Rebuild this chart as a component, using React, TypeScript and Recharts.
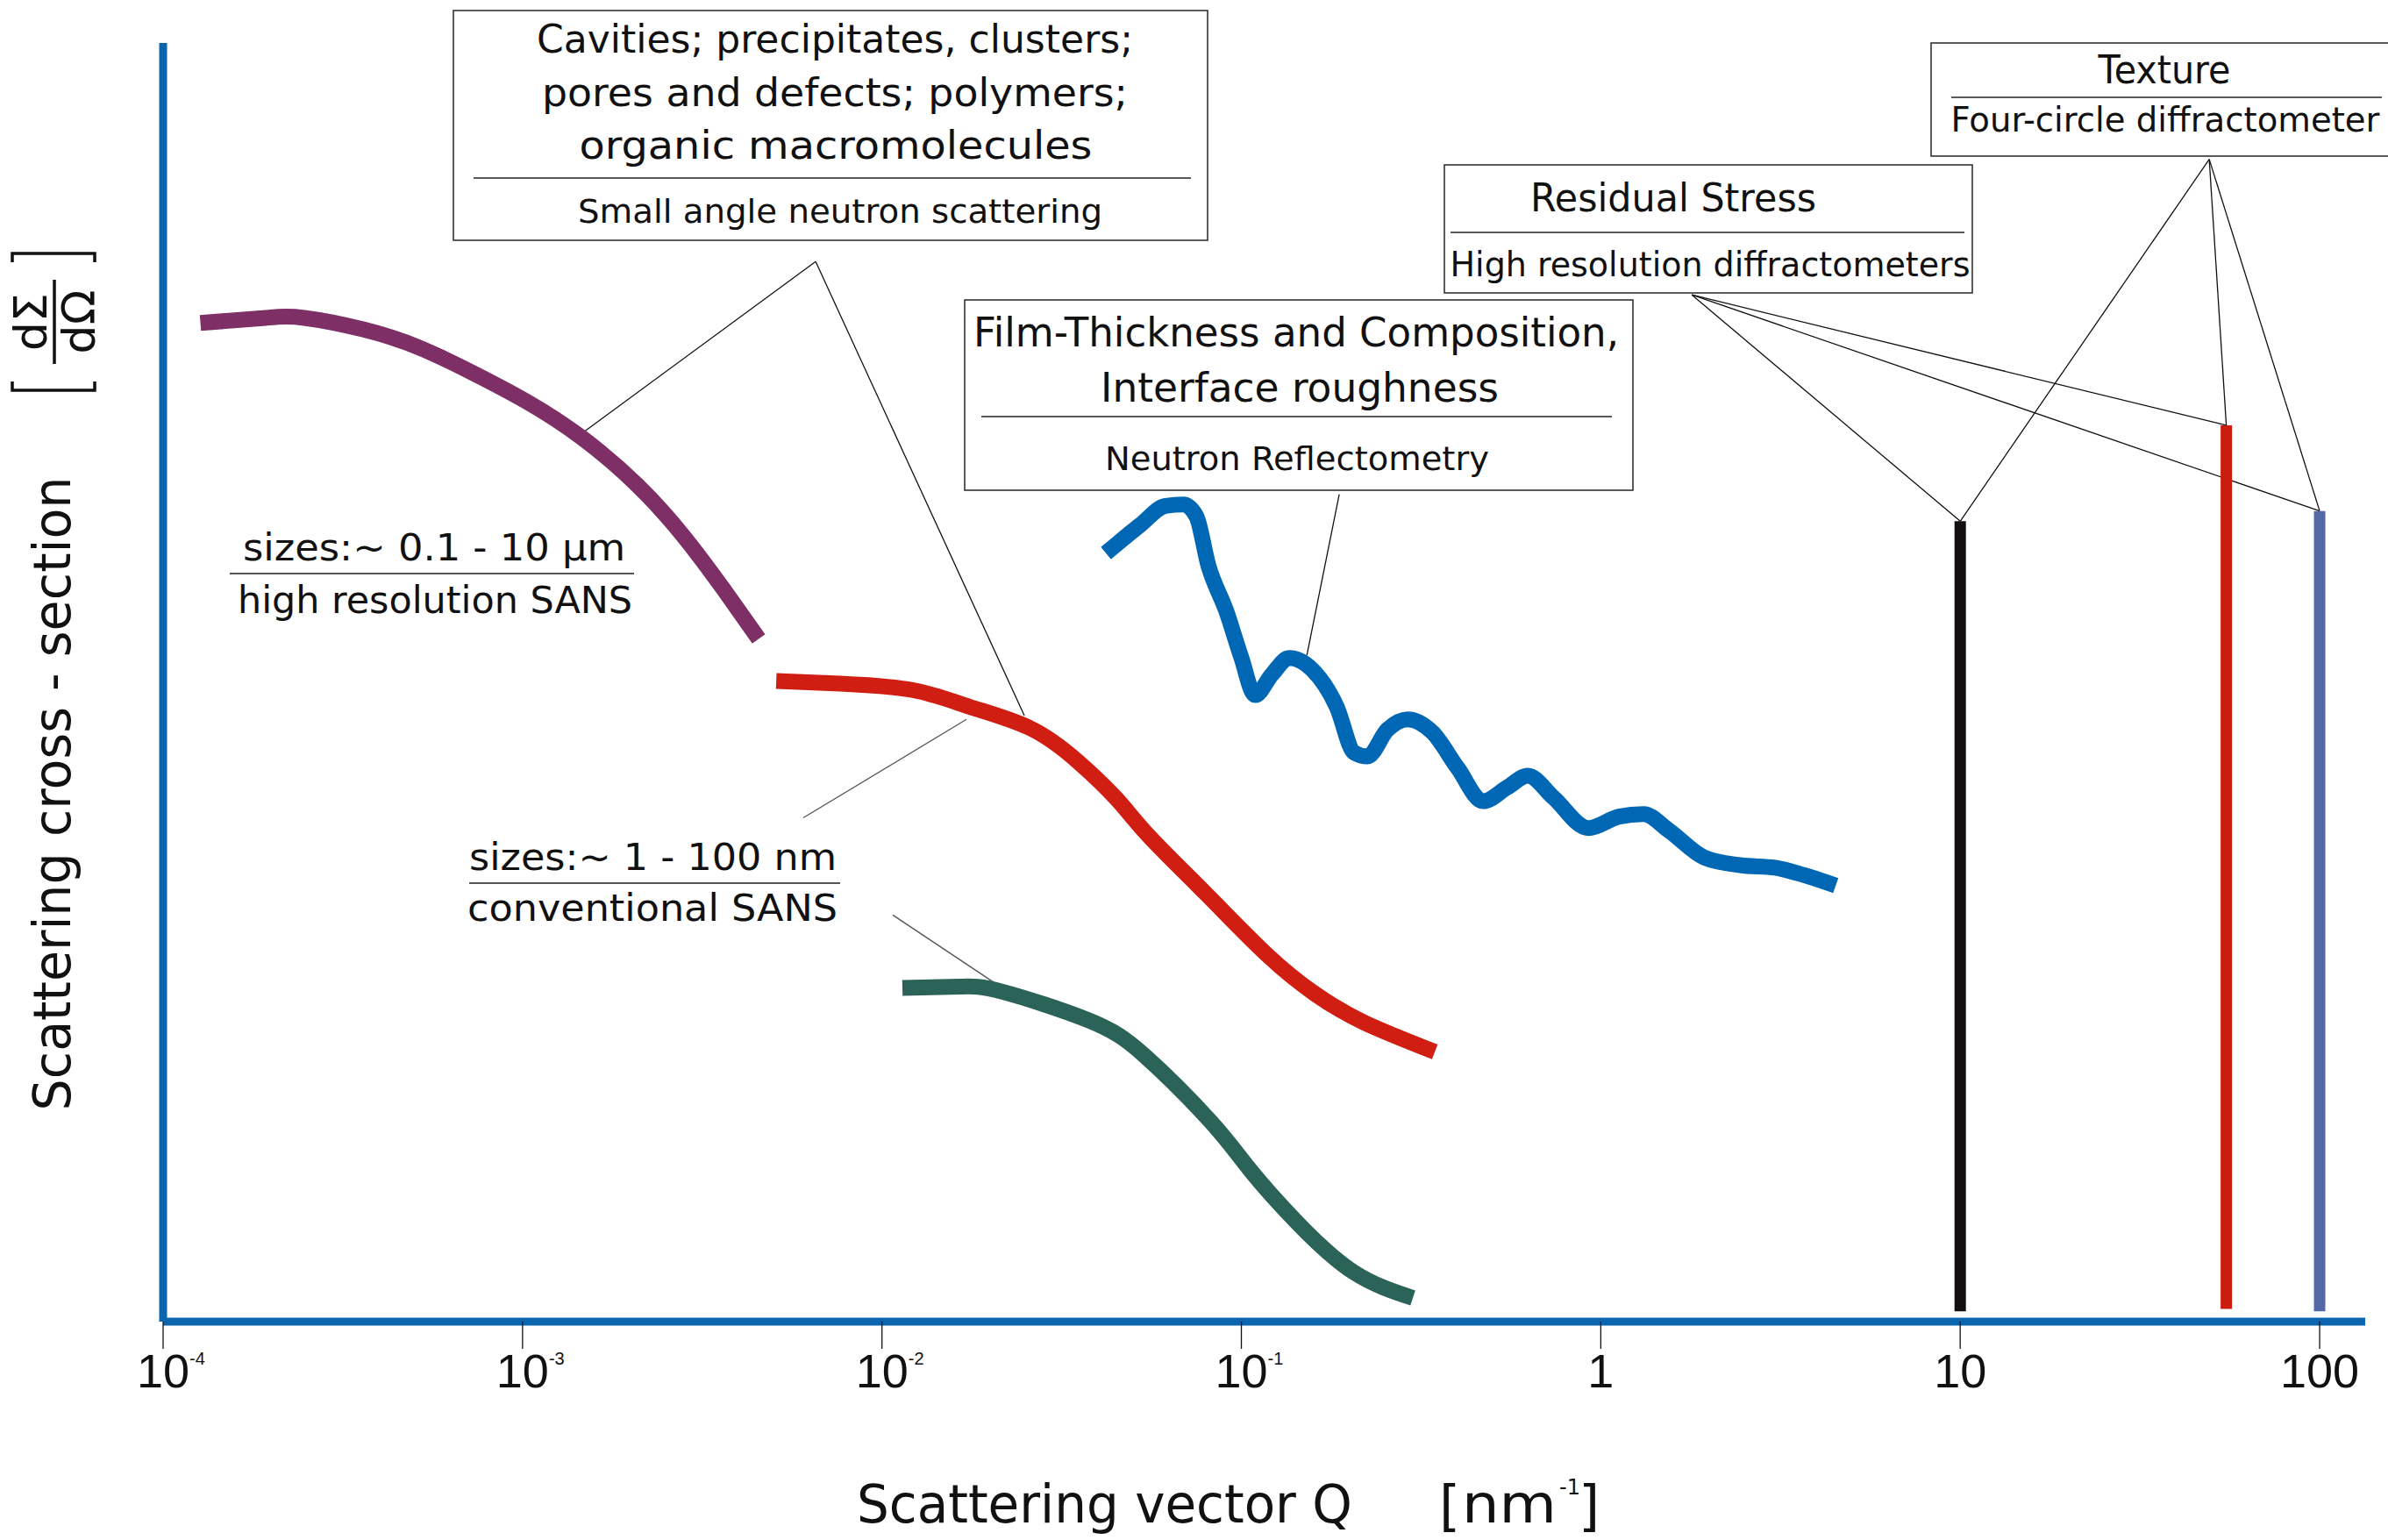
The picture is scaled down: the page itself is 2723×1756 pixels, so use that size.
import { ComposedChart, Line, XAxis, YAxis, ReferenceLine } from 'recharts'

const W = 2723
const H = 1756
const FONT = "'DejaVu Sans', 'Liberation Sans', sans-serif"
const TICK_FONT = "'Liberation Sans', 'DejaVu Sans', sans-serif"

// Q in nm^-1 (log axis), intensity in arbitrary log units (0..100)
const hiResSansQ = [1.27e-4, 1.93e-4, 2.47e-4, 3.6e-4, 5.13e-4, 7.27e-4, 1.035e-3, 1.467e-3, 2.09e-3, 2.81e-3, 3.62e-3, 4.54e-3]
const hiResSansI = [78.1, 78.5, 78.5, 77.6, 76.2, 74.2, 71.9, 69.1, 65.4, 61.4, 57.3, 53.4]

const sansQ = [5.08e-3, 7.65e-3, 1.213e-2, 1.748e-2, 2.59e-2, 3.51e-2, 4.49e-2, 5.56e-2, 8.01e-2, 0.1188, 0.1609, 0.2192, 0.3453]
const sansI = [50.1, 49.9, 49.4, 48.1, 46.4, 43.8, 40.9, 37.9, 33.4, 28.6, 25.6, 23.4, 21.1]

const sans2Q = [1.14e-2, 1.643e-2, 2.164e-2, 3.73e-2, 5.38e-2, 8.24e-2, 0.1055, 0.1429, 0.206, 0.3]
const sans2I = [26.1, 26.2, 25.8, 23.6, 20.8, 15.6, 11.9, 7.75, 3.84, 1.85]

const reflQ = [
  4.2e-2, 5.23e-2, 6.15e-2, 6.89e-2, 7.49e-2, 8.1e-2, 9.07e-2, 9.98e-2, 0.1092, 0.1215, 0.1359,
  0.1573, 0.1841, 0.206, 0.2241, 0.255, 0.2903, 0.3396, 0.3997, 0.4706, 0.5506, 0.6266, 0.7376,
  0.9232, 1.124, 1.315, 1.548, 1.939, 2.441, 3.056, 3.7, 4.504,
]
const reflI = [
  60.1, 62.3, 63.8, 63.9, 63.0, 59.1, 55.6, 52.0, 49.0, 50.6, 51.9,
  51.0, 48.1, 44.5, 44.2, 46.3, 47.1, 46.1, 43.3, 40.7, 41.8, 42.7, 41.0,
  38.6, 39.5, 39.7, 38.4, 36.3, 35.7, 35.5, 34.9, 34.1,
]

// diffraction: single Q positions drawn as bars from the axis up
const diffQ = [10, 55, 100]
const diffTop = [62.6, 70.1, 63.4]
const diffBottom = [0.8, 1.0, 0.8]
const diffColors = ['#140f0f', '#cc1c10', '#5468a8']

const qTicks = [1e-4, 1e-3, 1e-2, 1e-1, 1, 10, 100]
const tickBase = ['10', '10', '10', '10', '1', '10', '100']
const tickExp = ['-4', '-3', '-2', '-1', '', '', '']

const zip = (q: number[], i: number[]) => q.map((v, k) => ({ q: v, y: i[k] }))

// leader lines from the text boxes to the curves, in (Q, I) coordinates
const leaders: { from: [number, number]; to: [number, number]; color: string }[] = [
  { from: [6.54e-3, 82.9], to: [1.467e-3, 69.5], color: '#111' },
  { from: [6.54e-3, 82.9], to: [2.49e-2, 47.4], color: '#111' },
  { from: [6.04e-3, 39.4], to: [1.718e-2, 47.1], color: '#555' },
  { from: [1.072e-2, 31.8], to: [2.213e-2, 25.9], color: '#555' },
  { from: [0.1872, 64.7], to: [0.1521, 52.1], color: '#111' },
  { from: [1.792, 80.3], to: [10, 62.6], color: '#111' },
  { from: [1.792, 80.3], to: [55, 70.1], color: '#111' },
  { from: [1.792, 80.3], to: [100, 63.4], color: '#111' },
  { from: [49.3, 90.9], to: [10, 62.6], color: '#111' },
  { from: [49.3, 90.9], to: [55, 70.1], color: '#111' },
  { from: [49.3, 90.9], to: [100, 63.4], color: '#111' },
]

// "10" with a raised exponent, kept in a single text element
const renderTick = (props: any) => {
  const { x, y, payload } = props
  const i = qTicks.indexOf(payload.value)
  const base = tickBase[i]
  const exp = tickExp[i]
  if (!exp) {
    return (
      <text x={x} y={y + 42} textAnchor="middle" fontFamily={TICK_FONT} fill="#111" fontSize={54}>
        {base}
      </text>
    )
  }
  return (
    <text x={x - 30} y={y + 42} fontFamily={TICK_FONT} fill="#111" fontSize={54}>
      <tspan>{base}</tspan>
      <tspan dy={-26} fontSize={20}>{exp}</tspan>
    </text>
  )
}

type BoxLine = { text: string; cx: number; y: number; len: number; size: number }

function TextBox({ x, y, w, h, lines, rule }: { x: number; y: number; w: number; h: number; lines: BoxLine[]; rule: [number, number, number] }) {
  return (
    <g>
      <rect x={x} y={y} width={w} height={h} fill="#fff" stroke="#333" strokeWidth={1.6} />
      <line x1={rule[0]} x2={rule[1]} y1={rule[2]} y2={rule[2]} stroke="#222" strokeWidth={1.6} />
      {lines.map((l) => (
        <text
          key={l.text}
          x={l.cx}
          y={l.y}
          textAnchor="middle"
          fontSize={l.size}
          textLength={l.len}
          lengthAdjust="spacingAndGlyphs"
        >
          {l.text}
        </text>
      ))}
    </g>
  )
}

function Overlay() {
  return (
    <svg
      width={W}
      height={H}
      style={{ position: 'absolute', left: 0, top: 0, pointerEvents: 'none' }}
      fontFamily={FONT}
      fill="#111"
    >
      <TextBox
        x={517} y={12} w={860} h={262}
        rule={[540, 1358, 203]}
        lines={[
          { text: 'Cavities; precipitates, clusters;', cx: 952, y: 60, len: 680, size: 44 },
          { text: 'pores and defects; polymers;', cx: 952, y: 121, len: 668, size: 44 },
          { text: 'organic macromolecules', cx: 953, y: 181, len: 585, size: 44 },
          { text: 'Small angle neutron scattering', cx: 958, y: 254, len: 598, size: 38 },
        ]}
      />
      <TextBox
        x={1100} y={342} w={762} h={217}
        rule={[1119, 1838, 475]}
        lines={[
          { text: 'Film-Thickness and Composition,', cx: 1478, y: 395, len: 736, size: 46 },
          { text: 'Interface roughness', cx: 1482, y: 458, len: 454, size: 46 },
          { text: 'Neutron Reflectometry', cx: 1479, y: 536, len: 438, size: 38 },
        ]}
      />
      <TextBox
        x={1647} y={188} w={602} h={146}
        rule={[1654, 2240, 265]}
        lines={[
          { text: 'Residual Stress', cx: 1908, y: 241, len: 326, size: 45 },
          { text: 'High resolution diffractometers', cx: 1950, y: 315, len: 593, size: 39 },
        ]}
      />
      <TextBox
        x={2202} y={49} w={530} h={129}
        rule={[2225, 2716, 111]}
        lines={[
          { text: 'Texture', cx: 2468, y: 95, len: 151, size: 45 },
          { text: 'Four-circle diffractometer', cx: 2469, y: 150, len: 489, size: 39 },
        ]}
      />

      {/* size ranges of the two SANS set-ups */}
      <text x={277} y={639} fontSize={43} textLength={436} lengthAdjust="spacingAndGlyphs">sizes:~ 0.1 - 10 µm</text>
      <line x1={262} x2={723} y1={654} y2={654} stroke="#555" strokeWidth={2} />
      <text x={271} y={699} fontSize={43} textLength={450} lengthAdjust="spacingAndGlyphs">high resolution SANS</text>

      <text x={535} y={992} fontSize={43} textLength={419} lengthAdjust="spacingAndGlyphs">sizes:~ 1 - 100 nm</text>
      <line x1={535} x2={958} y1={1007} y2={1007} stroke="#555" strokeWidth={2} />
      <text x={533} y={1050} fontSize={43} textLength={422} lengthAdjust="spacingAndGlyphs">conventional SANS</text>

      {/* y title with dΣ/dΩ unit */}
      <text
        x={80} y={905}
        transform="rotate(-90, 80, 905)"
        textAnchor="middle"
        fontSize={59}
        textLength={723}
        lengthAdjust="spacingAndGlyphs"
      >
        Scattering cross - section
      </text>
      <g transform="translate(62, 367) rotate(-90)">
        <text x={0} y={-9} textAnchor="middle" fontSize={52}>dΣ</text>
        <line x1={-48} x2={48} y1={0} y2={0} stroke="#111" strokeWidth={3.5} />
        <text x={0} y={46} textAnchor="middle" fontSize={52}>dΩ</text>
        <path d="M -68 -48 L -78 -48 L -78 46 L -68 46" fill="none" stroke="#111" strokeWidth={3.5} />
        <path d="M 68 -48 L 78 -48 L 78 46 L 68 46" fill="none" stroke="#111" strokeWidth={3.5} />
      </g>

      {/* x title */}
      <text x={977} y={1736} fontSize={60} textLength={565} lengthAdjust="spacingAndGlyphs">Scattering vector Q</text>
      <text x={1641} y={1738} fontSize={62}>[</text>
      <text x={1667} y={1736} fontSize={60} textLength={108} lengthAdjust="spacingAndGlyphs">nm</text>
      <text x={1778} y={1704} fontSize={24}>-1</text>
      <text x={1800} y={1738} fontSize={62}>]</text>
    </svg>
  )
}

export default function App() {
  return (
    <div style={{ position: 'relative', width: W, height: H, background: '#fff' }}>
      <style>{'body{margin:0}'}</style>
      <ComposedChart width={W} height={H} margin={{ top: 49, right: 26, bottom: 189, left: 126 }}>
        <XAxis
          type="number"
          dataKey="q"
          scale="log"
          domain={[1e-4, 133.9]}
          allowDataOverflow
          ticks={qTicks}
          interval={0}
          height={60}
          tickSize={31}
          tickLine={{ stroke: '#111', strokeWidth: 1.3 }}
          axisLine={{ stroke: '#0a64ae', strokeWidth: 9 }}
          tick={renderTick}
        />
        <YAxis
          type="number"
          domain={[0, 100]}
          allowDataOverflow
          width={60}
          tick={false}
          tickLine={false}
          axisLine={{ stroke: '#0a64ae', strokeWidth: 9 }}
        />
        {leaders.map((s, k) => (
          <ReferenceLine
            key={k}
            segment={[{ x: s.from[0], y: s.from[1] }, { x: s.to[0], y: s.to[1] }]}
            stroke={s.color}
            strokeWidth={1.3}
            ifOverflow="visible"
          />
        ))}
        <Line data={zip(hiResSansQ, hiResSansI)} dataKey="y" type="natural" stroke="#7e3066" strokeWidth={18} dot={false} isAnimationActive={false} />
        <Line data={zip(sansQ, sansI)} dataKey="y" type="natural" stroke="#d01e12" strokeWidth={18} dot={false} isAnimationActive={false} />
        <Line data={zip(sans2Q, sans2I)} dataKey="y" type="natural" stroke="#2b6358" strokeWidth={18} dot={false} isAnimationActive={false} />
        <Line data={zip(reflQ, reflI)} dataKey="y" type="monotone" stroke="#0067b4" strokeWidth={18} strokeLinejoin="round" dot={false} isAnimationActive={false} />
        {diffQ.map((q, k) => (
          <Line
            key={q}
            data={[{ q, y: diffBottom[k] }, { q, y: diffTop[k] }]}
            dataKey="y"
            type="linear"
            stroke={diffColors[k]}
            strokeWidth={13}
            dot={false}
            isAnimationActive={false}
          />
        ))}
      </ComposedChart>
      <Overlay />
    </div>
  )
}
